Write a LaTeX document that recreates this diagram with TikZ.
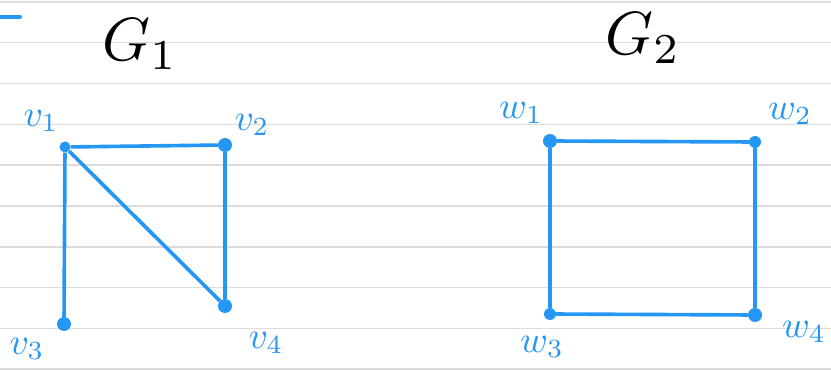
\documentclass[tikz,border=0pt]{standalone}
\usepackage{amsmath}
\usepackage{graphicx}
\usepackage{tikz}
\definecolor{penblue}{RGB}{36,150,243}
\definecolor{rule}{RGB}{220,220,220}
\newcommand{\biglbl}[1]{\scalebox{3.2}{$#1$}}
\newcommand{\bigtitle}[1]{\scalebox{5.2}{$#1$}}

\begin{document}
\begin{tikzpicture}[x=0.03cm,y=-0.03cm,
    vtx/.style={circle,fill=penblue,inner sep=0pt,minimum size=#1},
    vtx/.default=0.42cm,
    edge/.style={penblue,line width=3.1pt},
    lbl/.style={text=penblue,inner sep=0pt},
    title/.style={inner sep=0pt}]
    \useasboundingbox (0,0) rectangle (831,371);
    % ruled paper
    \foreach \k in {0,...,9}
      \draw[rule,line width=1.2pt] (0,{2+40.8*\k}) -- (831,{2+40.8*\k});
    \draw[penblue,line width=3.5pt,line cap=round] (0,17) -- (20,17);
    % titles
    \node[title] (t1) at (140,44) {\bigtitle{G_1}};
    \node[title] (t2) at (643,38) {\bigtitle{G_2}};
    % graph G1
    \node[vtx=0.33cm] (v1) at (65,147) {};
    \node[vtx] (v2) at (225,145) {};
    \node[vtx] (v3) at (64,324) {};
    \node[vtx] (v4) at (225,306) {};
    \node[lbl] (lv1) at (41,121) {\biglbl{v_1}};
    \node[lbl] (lv2) at (252,125) {\biglbl{v_2}};
    \node[lbl] (lv3) at (27,349) {\biglbl{v_3}};
    \node[lbl] (lv4) at (266,343) {\biglbl{v_4}};
    \draw[edge] (v1) -- (v2);
    \draw[edge] (v1) -- (v3);
    \draw[edge] (v1) -- (v4);
    \draw[edge] (v2) -- (v4);
    % graph G2
    \node[vtx] (w1) at (550,141) {};
    \node[vtx=0.36cm] (w2) at (755,142) {};
    \node[vtx=0.36cm] (w3) at (550,314) {};
    \node[vtx] (w4) at (755,315) {};
    \node[lbl] (lw1) at (521,113) {\biglbl{w_1}};
    \node[lbl] (lw2) at (790,114) {\biglbl{w_2}};
    \node[lbl] (lw3) at (542,347) {\biglbl{w_3}};
    \node[lbl] (lw4) at (804,332) {\biglbl{w_4}};
    \draw[edge] (w1) -- (w2);
    \draw[edge] (w1) -- (w3);
    \draw[edge] (w2) -- (w4);
    \draw[edge] (w3) -- (w4);
  \end{tikzpicture}
\end{document}
